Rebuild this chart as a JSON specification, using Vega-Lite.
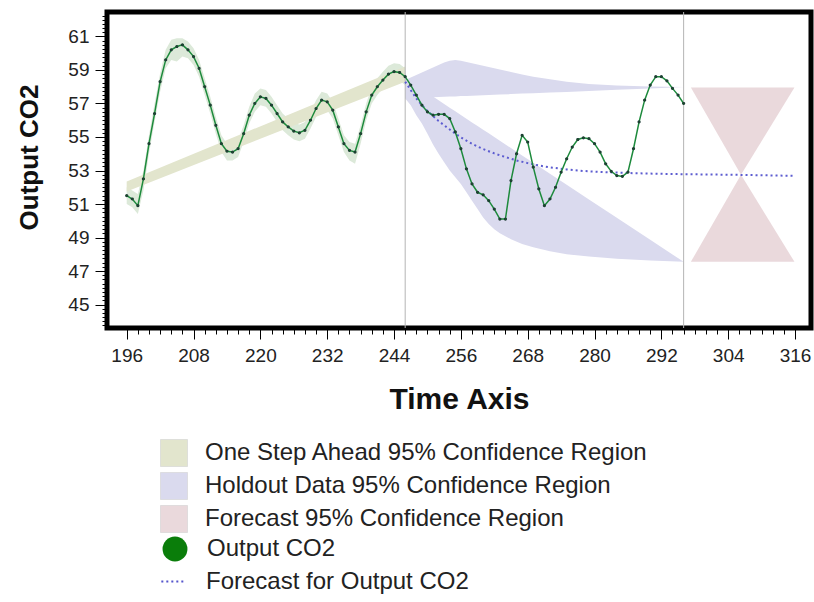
{
  "$schema": "https://vega.github.io/schema/vega-lite/v6.json",
  "width": 704,
  "height": 316,
  "autosize": "none",
  "padding": {"left": 107, "top": 12, "right": 3, "bottom": 274},
  "background": "white",
  "config": {
    "view": {"stroke": "#000", "strokeWidth": 5},
    "axis": {"domain": false, "grid": false, "tickColor": "#000", "tickWidth": 1, "labelColor": "#222", "labelFont": "Liberation Sans", "titleFont": "Liberation Sans", "titleFontWeight": "bold", "titleColor": "#111", "labelOverlap": false, "labelBound": false, "labelFlush": false},
    "legend": {"padding": 0, "labelFont": "Liberation Sans", "labelFontSize": 24, "labelColor": "#222", "labelLimit": 700, "rowPadding": 0}
  },
  "resolve": {"axis": {"x": "independent", "y": "independent"}},
  "datasets": {
    "main": [
      {"t":196,"y":51.5,"lo":51.0,"hi":52.0},{"t":197,"y":51.3,"lo":50.8,"hi":51.8},{"t":198,"y":50.9,"lo":50.4,"hi":51.6},{"t":199,"y":52.5,"lo":51.8,"hi":53.0},{"t":200,"y":54.6,"lo":54.0,"hi":55.1},
      {"t":201,"y":56.4,"lo":55.9,"hi":57.0},{"t":202,"y":58.3,"lo":57.7,"hi":58.8},{"t":203,"y":59.6,"lo":59.1,"hi":60.2},{"t":204,"y":60.2,"lo":59.6,"hi":60.8},{"t":205,"y":60.4,"lo":59.5,"hi":60.9},
      {"t":206,"y":60.5,"lo":59.8,"hi":60.9},{"t":207,"y":60.2,"lo":59.7,"hi":60.7},{"t":208,"y":59.8,"lo":59.3,"hi":60.3},{"t":209,"y":59.1,"lo":58.6,"hi":59.6},{"t":210,"y":58.0,"lo":57.5,"hi":58.5},
      {"t":211,"y":56.9,"lo":56.4,"hi":57.4},{"t":212,"y":55.7,"lo":55.2,"hi":56.2},{"t":213,"y":54.6,"lo":54.1,"hi":55.1},{"t":214,"y":54.15,"lo":53.6,"hi":54.6},{"t":215,"y":54.1,"lo":53.6,"hi":54.6},
      {"t":216,"y":54.3,"lo":53.8,"hi":54.8},{"t":217,"y":55.2,"lo":54.7,"hi":55.7},{"t":218,"y":56.3,"lo":55.8,"hi":56.8},{"t":219,"y":57.0,"lo":56.5,"hi":57.6},{"t":220,"y":57.4,"lo":56.9,"hi":57.9},
      {"t":221,"y":57.3,"lo":56.8,"hi":57.8},{"t":222,"y":56.9,"lo":56.4,"hi":57.4},{"t":223,"y":56.4,"lo":55.9,"hi":56.9},{"t":224,"y":55.9,"lo":55.4,"hi":56.4},{"t":225,"y":55.6,"lo":55.1,"hi":56.1},
      {"t":226,"y":55.35,"lo":54.85,"hi":55.85},{"t":227,"y":55.25,"lo":54.75,"hi":55.75},{"t":228,"y":55.4,"lo":54.9,"hi":55.9},{"t":229,"y":56.0,"lo":55.5,"hi":56.5},{"t":230,"y":56.7,"lo":56.2,"hi":57.2},
      {"t":231,"y":57.2,"lo":56.7,"hi":57.7},{"t":232,"y":57.1,"lo":56.6,"hi":57.6},{"t":233,"y":56.6,"lo":56.1,"hi":57.1},{"t":234,"y":55.6,"lo":55.1,"hi":56.1},{"t":235,"y":54.6,"lo":54.1,"hi":55.1},
      {"t":236,"y":54.2,"lo":53.6,"hi":54.7},{"t":237,"y":54.1,"lo":53.4,"hi":54.6},{"t":238,"y":55.2,"lo":54.6,"hi":55.7},{"t":239,"y":56.5,"lo":56.0,"hi":57.0},{"t":240,"y":57.5,"lo":57.0,"hi":58.0},
      {"t":241,"y":58.0,"lo":57.5,"hi":58.5},{"t":242,"y":58.4,"lo":57.9,"hi":58.9},{"t":243,"y":58.75,"lo":58.25,"hi":59.25},{"t":244,"y":58.9,"lo":58.4,"hi":59.4},{"t":245,"y":58.85,"lo":58.35,"hi":59.35},
      {"t":246,"y":58.6,"lo":58.1,"hi":59.1},
      {"t":247,"y":58.1},{"t":248,"y":57.5},{"t":249,"y":56.9},{"t":250,"y":56.5},{"t":251,"y":56.3},{"t":252,"y":56.35},{"t":253,"y":56.35},{"t":254,"y":56.1},{"t":255,"y":55.3},
      {"t":256,"y":54.3},{"t":257,"y":53.1},{"t":258,"y":52.2},{"t":259,"y":51.7},{"t":260,"y":51.55},{"t":261,"y":51.2},{"t":262,"y":50.7},{"t":263,"y":50.1},{"t":264,"y":50.1},{"t":265,"y":52.4},
      {"t":266,"y":54.0},{"t":267,"y":55.1},{"t":268,"y":54.7},{"t":269,"y":53.2},{"t":270,"y":51.9},{"t":271,"y":50.9},{"t":272,"y":51.3},{"t":273,"y":52.0},{"t":274,"y":52.9},{"t":275,"y":53.7},
      {"t":276,"y":54.4},{"t":277,"y":54.85},{"t":278,"y":54.95},{"t":279,"y":54.9},{"t":280,"y":54.6},{"t":281,"y":54.1},{"t":282,"y":53.4},{"t":283,"y":52.95},{"t":284,"y":52.7},{"t":285,"y":52.65},
      {"t":286,"y":52.9},{"t":287,"y":54.3},{"t":288,"y":55.9},{"t":289,"y":57.2},{"t":290,"y":58.1},{"t":291,"y":58.6},{"t":292,"y":58.6},{"t":293,"y":58.35},{"t":294,"y":57.9},{"t":295,"y":57.5},{"t":296,"y":57.0}
    ],
    "strip": [
      {"t":196,"y":51.75,"y2":52.35},
      {"t":246,"y":58.3,"y2":59.2}
    ],
    "holdout": [
      {"piece":"upper","t":246,"y":58.4,"y2":57.30},{"piece":"upper","t":247,"y":58.55,"y2":57.31},{"piece":"upper","t":248,"y":58.7,"y2":57.33},{"piece":"upper","t":249,"y":58.85,"y2":57.34},
      {"piece":"upper","t":250,"y":59.0,"y2":57.35},{"piece":"upper","t":251,"y":59.15,"y2":57.37},{"piece":"upper","t":252,"y":59.3,"y2":57.38},{"piece":"upper","t":253,"y":59.45,"y2":57.40},
      {"piece":"upper","t":254,"y":59.55,"y2":57.41},{"piece":"upper","t":255,"y":59.6,"y2":57.42},{"piece":"upper","t":256,"y":59.55,"y2":57.44},{"piece":"upper","t":257,"y":59.48,"y2":57.45},
      {"piece":"upper","t":258,"y":59.4,"y2":57.46},{"piece":"upper","t":259,"y":59.32,"y2":57.48},{"piece":"upper","t":260,"y":59.25,"y2":57.49},{"piece":"upper","t":261,"y":59.18,"y2":57.50},
      {"piece":"upper","t":262,"y":59.1,"y2":57.52},{"piece":"upper","t":263,"y":59.03,"y2":57.53},{"piece":"upper","t":265,"y":58.88,"y2":57.56},{"piece":"upper","t":267,"y":58.73,"y2":57.59},
      {"piece":"upper","t":269,"y":58.6,"y2":57.61},{"piece":"upper","t":272,"y":58.45,"y2":57.65},{"piece":"upper","t":275,"y":58.3,"y2":57.69},{"piece":"upper","t":279,"y":58.17,"y2":57.75},
      {"piece":"upper","t":284,"y":58.08,"y2":57.82},{"piece":"upper","t":290,"y":58.02,"y2":57.90},{"piece":"upper","t":296,"y":57.98,"y2":57.98},
      {"piece":"lower","t":246,"y":57.3,"y2":58.5},{"piece":"lower","t":247,"y":56.9,"y2":58.28},{"piece":"lower","t":248,"y":56.3,"y2":58.06},{"piece":"lower","t":249,"y":55.8,"y2":57.84},
      {"piece":"lower","t":250,"y":55.2,"y2":57.62},{"piece":"lower","t":251,"y":54.55,"y2":57.41},{"piece":"lower","t":252,"y":54.0,"y2":57.19},{"piece":"lower","t":253,"y":53.5,"y2":56.97},
      {"piece":"lower","t":254,"y":53.0,"y2":56.75},{"piece":"lower","t":255,"y":52.6,"y2":56.53},{"piece":"lower","t":256,"y":52.2,"y2":56.31},{"piece":"lower","t":257,"y":51.7,"y2":56.09},
      {"piece":"lower","t":258,"y":51.2,"y2":55.87},{"piece":"lower","t":259,"y":50.7,"y2":55.65},{"piece":"lower","t":260,"y":50.2,"y2":55.43},{"piece":"lower","t":261,"y":49.8,"y2":55.22},
      {"piece":"lower","t":262,"y":49.5,"y2":55.0},{"piece":"lower","t":263,"y":49.25,"y2":54.78},{"piece":"lower","t":265,"y":48.9,"y2":54.34},{"piece":"lower","t":267,"y":48.62,"y2":53.9},
      {"piece":"lower","t":269,"y":48.42,"y2":53.46},{"piece":"lower","t":272,"y":48.18,"y2":52.81},{"piece":"lower","t":275,"y":48.0,"y2":52.15},{"piece":"lower","t":279,"y":47.86,"y2":51.27},
      {"piece":"lower","t":284,"y":47.74,"y2":50.18},{"piece":"lower","t":290,"y":47.63,"y2":48.86},{"piece":"lower","t":296,"y":47.55,"y2":47.55}
    ],
    "bowtie": [
      {"part":"top","t":297.3,"y":57.95,"y2":57.95},{"part":"top","t":306.3,"y":57.95,"y2":52.75},{"part":"top","t":315.9,"y":57.95,"y2":57.95},
      {"part":"bottom","t":297.3,"y":47.55,"y2":47.55},{"part":"bottom","t":306.3,"y":47.55,"y2":52.75},{"part":"bottom","t":315.9,"y":47.55,"y2":47.55}
    ],
    "forecast": [
      {"t":246,"y":58.3},{"t":247,"y":57.8},{"t":248,"y":57.3},{"t":249,"y":56.9},{"t":250,"y":56.55},{"t":251,"y":56.25},{"t":252,"y":55.95},{"t":253,"y":55.7},
      {"t":254,"y":55.45},{"t":255,"y":55.2},{"t":256,"y":54.98},{"t":257,"y":54.78},{"t":258,"y":54.6},{"t":259,"y":54.43},{"t":260,"y":54.28},{"t":262,"y":54.02},
      {"t":264,"y":53.8},{"t":266,"y":53.6},{"t":268,"y":53.44},{"t":270,"y":53.3},{"t":272,"y":53.19},{"t":275,"y":53.06},{"t":278,"y":52.97},{"t":282,"y":52.9},
      {"t":287,"y":52.84},{"t":292,"y":52.8},{"t":296,"y":52.78},{"t":301,"y":52.76},{"t":306,"y":52.74},{"t":311,"y":52.71},{"t":316,"y":52.68}
    ],
    "splits": [{"t":246},{"t":296}]
  },
  "layer": [
    {
      "data": {"name": "main"},
      "transform": [{"filter": "isValid(datum.lo)"}],
      "mark": {"type": "area", "color": "#dce9d9", "interpolate": "linear"},
      "encoding": {
        "x": {"field": "t", "type": "quantitative", "title": "Time Axis",
          "scale": {"domain": [192.46, 318.87], "nice": false, "zero": false},
          "axis": {
            "orient": "bottom",
            "values": [196,208,220,232,244,256,268,280,292,304,316],
            "tickSize": 11, "labelFontSize": 19, "labelPadding": 7,
            "titleFontSize": 30, "titlePadding": 19
          }
        },
        "y": {"field": "lo", "type": "quantitative", "title": "Output CO2",
          "scale": {"domain": [43.6, 62.46], "nice": false, "zero": false},
          "axis": {
            "orient": "left",
            "values": [45,47,49,51,53,55,57,59,61],
            "tickSize": 12, "labelFontSize": 19, "labelPadding": 6,
            "titleFontSize": 26, "titleX": -65, "titleY": 145, "titleAlign": "center", "titleBaseline": "bottom", "titleAngle": 270
          }
        },
        "y2": {"field": "hi"}
      }
    },
    {
      "data": {"name": "strip"},
      "mark": {"type": "area", "interpolate": "linear", "opacity": 1},
      "encoding": {
        "x": {"field": "t", "type": "quantitative", "scale": {"domain": [192.46, 318.87], "nice": false, "zero": false},
          "axis": {
            "orient": "bottom", "title": null, "labels": false, "tickSize": 6,
            "values": [196,198,200,202,204,206,208,210,212,214,216,218,220,222,224,226,228,230,232,234,236,238,240,242,244,246,248,250,252,254,256,258,260,262,264,266,268,270,272,274,276,278,280,282,284,286,288,290,292,294,296,298,300,302,304,306,308,310,312,314,316]
          }
        },
        "y": {"field": "y", "type": "quantitative", "scale": {"domain": [43.6, 62.46], "nice": false, "zero": false},
          "axis": {
            "orient": "left", "title": null, "labels": false, "tickSize": 5,
            "values": [43.75,44,44.25,44.5,44.75,45,45.25,45.5,45.75,46,46.25,46.5,46.75,47,47.25,47.5,47.75,48,48.25,48.5,48.75,49,49.25,49.5,49.75,50,50.25,50.5,50.75,51,51.25,51.5,51.75,52,52.25,52.5,52.75,53,53.25,53.5,53.75,54,54.25,54.5,54.75,55,55.25,55.5,55.75,56,56.25,56.5,56.75,57,57.25,57.5,57.75,58,58.25,58.5,58.75,59,59.25,59.5,59.75,60,60.25,60.5,60.75,61,61.25,61.5,61.75,62,62.25]
          }
        },
        "y2": {"field": "y2"},
        "color": {
          "datum": "One Step Ahead 95% Confidence Region",
          "scale": {
            "domain": ["One Step Ahead 95% Confidence Region", "Holdout Data 95% Confidence Region", "Forecast 95% Confidence Region"],
            "range": ["#e2e5cd", "#dadaee", "#ead9dc"]
          },
          "legend": {
            "orient": "none", "legendX": 53, "legendY": 427, "title": null, "rowPadding": 3,
            "symbolSize": 729, "symbolType": "square", "labelOffset": 17,
            "symbolStrokeColor": "#d2d2d2", "symbolStrokeWidth": 0.6
          }
        }
      }
    },
    {
      "data": {"name": "holdout"},
      "mark": {"type": "area", "interpolate": "linear", "opacity": 1},
      "encoding": {
        "x": {"field": "t", "type": "quantitative", "axis": null, "scale": {"domain": [192.46, 318.87], "nice": false, "zero": false}},
        "y": {"field": "y", "type": "quantitative", "axis": null, "scale": {"domain": [43.6, 62.46], "nice": false, "zero": false}},
        "y2": {"field": "y2"},
        "detail": {"field": "piece"},
        "color": {"datum": "Holdout Data 95% Confidence Region"}
      }
    },
    {
      "data": {"name": "bowtie"},
      "mark": {"type": "area", "interpolate": "linear", "opacity": 1},
      "encoding": {
        "x": {"field": "t", "type": "quantitative", "axis": null, "scale": {"domain": [192.46, 318.87], "nice": false, "zero": false}},
        "y": {"field": "y", "type": "quantitative", "axis": null, "scale": {"domain": [43.6, 62.46], "nice": false, "zero": false}},
        "y2": {"field": "y2"},
        "detail": {"field": "part"},
        "color": {"datum": "Forecast 95% Confidence Region"}
      }
    },
    {
      "data": {"name": "splits"},
      "mark": {"type": "rule", "color": "#b4b4b4", "strokeWidth": 1},
      "encoding": {
        "x": {"field": "t", "type": "quantitative", "axis": null, "scale": {"domain": [192.46, 318.87], "nice": false, "zero": false}}
      }
    },
    {
      "data": {"name": "forecast"},
      "mark": {"type": "line", "strokeWidth": 2, "color": "#5c5cd0", "interpolate": "linear"},
      "encoding": {
        "x": {"field": "t", "type": "quantitative", "axis": null, "scale": {"domain": [192.46, 318.87], "nice": false, "zero": false}},
        "y": {"field": "y", "type": "quantitative", "axis": null, "scale": {"domain": [43.6, 62.46], "nice": false, "zero": false}},
        "strokeDash": {
          "datum": "Forecast for Output CO2",
          "scale": {"domain": ["Forecast for Output CO2"], "range": [[2, 3]]},
          "legend": {
            "orient": "none", "legendX": 53, "legendY": 557, "title": null,
            "symbolType": "stroke", "symbolSize": 500, "symbolStrokeWidth": 2, "symbolStrokeColor": "#5555cc", "labelOffset": 21
          }
        }
      }
    },
    {
      "data": {"name": "main"},
      "mark": {"type": "line", "strokeWidth": 1.5, "color": "#1d8a3c", "interpolate": "linear"},
      "encoding": {
        "x": {"field": "t", "type": "quantitative", "axis": null, "scale": {"domain": [192.46, 318.87], "nice": false, "zero": false}},
        "y": {"field": "y", "type": "quantitative", "axis": null, "scale": {"domain": [43.6, 62.46], "nice": false, "zero": false}}
      }
    },
    {
      "data": {"name": "main"},
      "mark": {"type": "point", "filled": true, "size": 4, "color": "#0a7d0a", "stroke": "#1e3a36", "strokeWidth": 1.2, "opacity": 1},
      "encoding": {
        "x": {"field": "t", "type": "quantitative", "axis": null, "scale": {"domain": [192.46, 318.87], "nice": false, "zero": false}},
        "y": {"field": "y", "type": "quantitative", "axis": null, "scale": {"domain": [43.6, 62.46], "nice": false, "zero": false}},
        "shape": {
          "datum": "Output CO2",
          "scale": {"domain": ["Output CO2"], "range": ["circle"]},
          "legend": {
            "orient": "none", "legendX": 55, "legendY": 524, "title": null,
            "symbolSize": 620, "symbolFillColor": "#0a7d0a", "symbolStrokeColor": "#0a6a0a", "symbolStrokeWidth": 1, "labelOffset": 19
          }
        }
      }
    }
  ]
}
